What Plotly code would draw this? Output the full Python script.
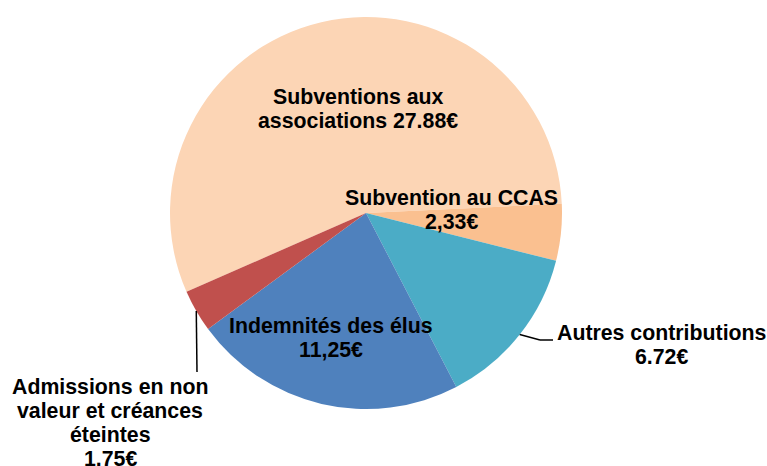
import math
import plotly.graph_objects as go

W, H = 767, 466

categories = [
    "Subventions aux associations",
    "Subvention au CCAS",
    "Autres contributions",
    "Indemnités des élus",
    "Admissions en non valeur et créances éteintes",
]
values = [27.88, 2.33, 6.72, 11.25, 1.75]
decimal_sep = [".", ",", ".", ",", "."]
colors = ["#FCD5B5", "#FAC090", "#4BACC6", "#4F81BD", "#C0504D"]

# label text lines ({v} = value), first-line centre in pixels, leader elbow
label_lines = [
    ["Subventions aux", "associations {v}"],
    ["Subvention au CCAS", "{v}"],
    ["Autres contributions", "{v}"],
    ["Indemnités des élus", "{v}"],
    ["Admissions en non", "valeur et créances", "éteintes", "{v}"],
]
label_pos = [(358, 97), (451, 198), (661, 333), (331, 326), (110, 387)]
leaders = {2: [(540, 340), (553, 340)], 4: [(197, 372)]}

CX, CY, R = 366, 213, 196
ROTATION = -113.7
FONT = "Arial, Liberation Sans, sans-serif"
FS = 21.3
LINE_H = 24


def px(x, y):
    return x / W, 1 - y / H


fig = go.Figure()
fig.add_trace(go.Pie(
    labels=categories, values=values,
    sort=False, direction="clockwise", rotation=ROTATION,
    marker=dict(colors=colors, line=dict(width=0)),
    textinfo="none", hoverinfo="label+value", showlegend=False,
    domain=dict(x=[(CX - R) / W, (CX + R) / W], y=[1 - (CY + R) / H, 1 - (CY - R) / H]),
))

annotations = []
for i, lines in enumerate(label_lines):
    v = f"{values[i]:.2f}".replace(".", decimal_sep[i]) + "€"
    x0, y0 = label_pos[i]
    for k, ln in enumerate(lines):
        xp, yp = px(x0, y0 + k * LINE_H)
        annotations.append(dict(
            x=xp, y=yp, xref="paper", yref="paper",
            text="<b>" + ln.replace("{v}", v) + "</b>",
            showarrow=False, xanchor="center", yanchor="middle",
            font=dict(family=FONT, size=FS, color="#000000"),
        ))

# leader lines from the mid-angle of the slice on the pie edge
total = sum(values)
shapes = []
cum = 0
for i, v in enumerate(values):
    mid = ROTATION + (cum + v / 2) / total * 360
    cum += v
    if i not in leaders:
        continue
    a = math.radians(mid)
    pts = [(CX + R * math.sin(a), CY - R * math.cos(a))] + leaders[i]
    for (xa, ya), (xb, yb) in zip(pts[:-1], pts[1:]):
        x1, y1 = px(xa, ya)
        x2, y2 = px(xb, yb)
        shapes.append(dict(type="line", xref="paper", yref="paper",
                           x0=x1, y0=y1, x1=x2, y1=y2,
                           line=dict(color="#000000", width=1.5)))

fig.update_layout(
    width=W, height=H,
    margin=dict(l=0, r=0, t=0, b=0),
    paper_bgcolor="white", plot_bgcolor="white",
    annotations=annotations, shapes=shapes,
)
fig.write_html("out.html", config={"displayModeBar": False},
               post_script="document.body.style.margin='0';")
